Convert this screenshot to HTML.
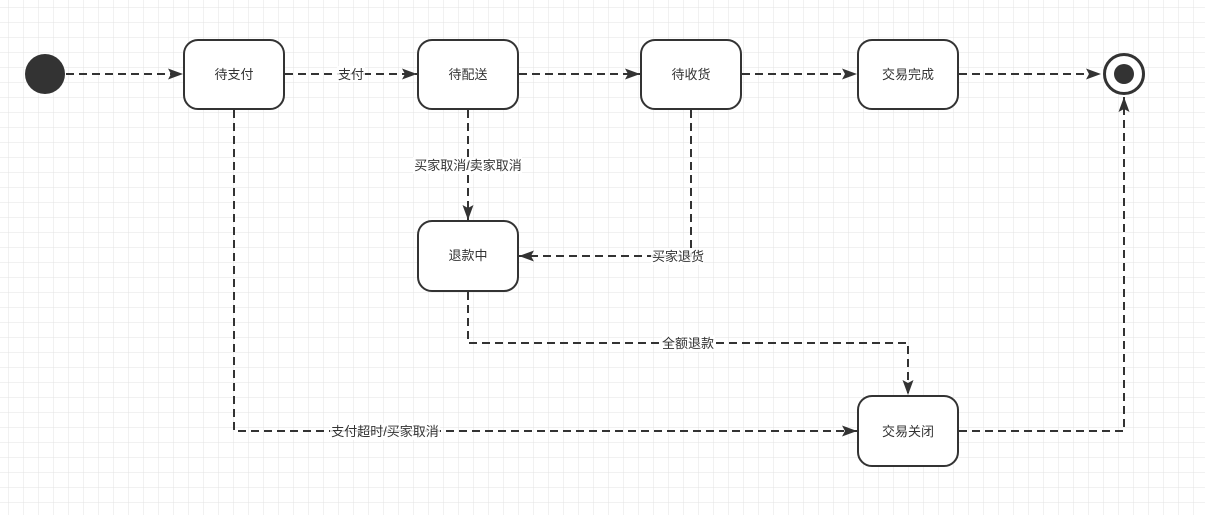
<!DOCTYPE html>
<html><head><meta charset="utf-8"><style>
html,body{margin:0;padding:0;background:#fff}
svg{display:block}
text{font-family:"Liberation Sans","Noto Sans CJK SC",sans-serif;font-size:13px;fill:#333}
</style></head><body>
<svg width="1205" height="515" viewBox="0 0 1205 515" xmlns="http://www.w3.org/2000/svg">
<defs>
<pattern id="g" x="8" y="7" width="15" height="15" patternUnits="userSpaceOnUse">
<path d="M0 0V15M0 0H15" stroke="#e3e3e3" stroke-width="1" fill="none"/>
</pattern>
<marker id="a" markerWidth="16" markerHeight="12" refX="15" refY="6" orient="auto" markerUnits="userSpaceOnUse">
<path d="M0 0.5L15 6L0 11.5L3 6Z" fill="#333"/>
</marker>
</defs>
<rect width="1205" height="515" fill="#fff"/>
<rect width="1205" height="515" fill="url(#g)"/>
<g stroke="#333" stroke-width="2" fill="none" stroke-dasharray="8 5" marker-end="url(#a)">
<path d="M66 74H183"/>
<path d="M285 74H417"/>
<path d="M519 74H640"/>
<path d="M742 74H857"/>
<path d="M959 74H1101"/>
<path d="M468 110V220"/>
<path d="M691 110V256H519"/>
<path d="M468 292V343H908V395"/>
<path d="M234 110V431H857"/>
<path d="M959 431H1124V97"/>
</g>
<circle cx="45" cy="74" r="20" fill="#333"/>
<circle cx="1124" cy="74" r="19.5" fill="#fff" stroke="#333" stroke-width="3"/>
<circle cx="1124" cy="74" r="10" fill="#333"/>
<g fill="#fff" stroke="#333" stroke-width="2">
<rect x="184" y="40" width="100" height="69" rx="14"/>
<rect x="418" y="40" width="100" height="69" rx="14"/>
<rect x="641" y="40" width="100" height="69" rx="14"/>
<rect x="858" y="40" width="100" height="69" rx="14"/>
<rect x="418" y="221" width="100" height="70" rx="14"/>
<rect x="858" y="396" width="100" height="70" rx="14"/>
</g>
<g fill="#fff" fill-opacity="0.85">
<rect x="337" y="66" width="28" height="16"/>
<rect x="413" y="157" width="109" height="17"/>
<rect x="651" y="248" width="53" height="17"/>
<rect x="662" y="335" width="53" height="17"/>
<rect x="330" y="423" width="110" height="17"/>
</g>
<g text-anchor="middle">
<text x="234" y="79">待支付</text>
<text x="468" y="79">待配送</text>
<text x="691" y="79">待收货</text>
<text x="908" y="79">交易完成</text>
<text x="468" y="260">退款中</text>
<text x="908" y="436">交易关闭</text>
<text x="351" y="79">支付</text>
<text x="468" y="170">买家取消/卖家取消</text>
<text x="678" y="261">买家退货</text>
<text x="688" y="348">全额退款</text>
<text x="385" y="436">支付超时/买家取消</text>
</g>
</svg>
</body></html>
